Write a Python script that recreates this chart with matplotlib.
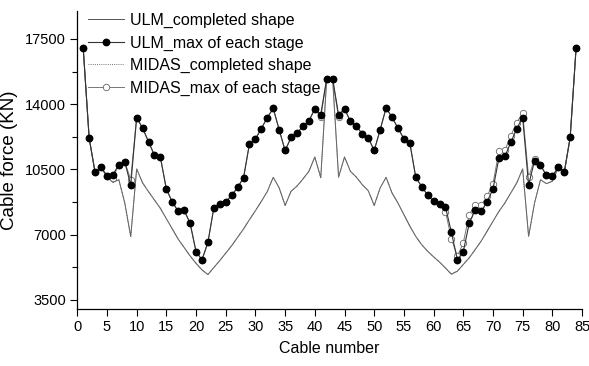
import numpy as np
import matplotlib
matplotlib.use("Agg")
import matplotlib.pyplot as plt
from matplotlib.ticker import MultipleLocator

plt.rcParams['font.family'] = ['Liberation Sans', 'DejaVu Sans']

cable_no = np.arange(1, 85)

ulm_completed = [
    17000, 12180, 10330, 10600, 10100, 9800, 9940, 8690, 6890, 10520,
    9770, 9300, 8850, 8400, 7850, 7300, 6750, 6300, 5850, 5450,
    5100, 4850, 5230, 5600, 6000, 6400, 6850, 7300, 7800, 8280,
    8780, 9310, 10070, 9500, 8560, 9320, 9600, 9980, 10390, 11160,
    10050, 15360, 15360, 10080, 11160, 10390, 10080, 9670, 9350, 8560,
    9500, 10070, 9230, 8690, 8070, 7450, 6900, 6450, 6100, 5800,
    5520, 5200, 4870, 5030, 5390, 5750, 6190, 6640, 7170, 7710,
    8240, 8690, 9230, 9770, 10520, 6900, 8690, 9940, 9730, 9860,
    10600, 10330, 12210, 17030,
]

ulm_max = [
    17000, 12180, 10330, 10600, 10160, 10210, 10750, 10900, 9660, 13280,
    12710, 11980, 11250, 11140, 9440, 8750, 8240, 8300, 7600, 6080,
    5640, 6580, 8440, 8660, 8750, 9100, 9530, 10050, 11880, 12130,
    12690, 13280, 13770, 12620, 11510, 12210, 12450, 12800, 13090, 13750,
    13430, 15360, 15360, 13420, 13750, 13070, 12800, 12410, 12190, 11510,
    12620, 13790, 13300, 12710, 12140, 11910, 10070, 9570, 9120, 8780,
    8640, 8480, 7120, 5650, 6080, 7600, 8330, 8240, 8750, 9440,
    11100, 11190, 11950, 12680, 13280, 9660, 10960, 10730, 10170, 10140,
    10600, 10330, 12210, 17030,
]

midas_completed = list(ulm_completed)

midas_max = [
    17000, 12180, 10330, 10600, 10160, 10050, 10750, 10900, 9940, 13280,
    12710, 11980, 11250, 11140, 9440, 8750, 8240, 8300, 7600, 6080,
    5640, 6580, 8440, 8660, 8750, 9100, 9530, 10050, 11880, 12130,
    12690, 13280, 13770, 12620, 11510, 12210, 12450, 12800, 13090, 13750,
    13300, 15360, 15360, 13300, 13750, 13070, 12800, 12410, 12190, 11510,
    12620, 13790, 13300, 12710, 12140, 11910, 10070, 9570, 9120, 8780,
    8640, 8230, 6780, 5830, 6550, 8070, 8600, 8570, 9050, 9730,
    11460, 11510, 12300, 13010, 13520, 10070, 11050, 10730, 10170, 10140,
    10600, 10330, 12210, 17030,
]

fig = plt.figure(figsize=(5.89, 3.66), dpi=100)
ax = fig.add_axes([0.1312, 0.1557, 0.857, 0.8143])

ax.plot(cable_no, ulm_completed, color='#555555', lw=0.7, label='ULM_completed shape', zorder=2)
ax.plot(cable_no, ulm_max, color='#333333', lw=0.8, marker='o', ms=4.6,
        mfc='black', mec='black', label='ULM_max of each stage', zorder=4)
ax.plot(cable_no, midas_completed, color='#777777', lw=0.7, ls=(0, (1, 1.2)),
        label='MIDAS_completed shape', zorder=2)
ax.plot(cable_no, midas_max, color='#777777', lw=0.7, marker='o', ms=4.6,
        mfc='white', mec='#666666', mew=0.6, label='MIDAS_max of each stage', zorder=3)

ax.set_xlim(0, 85)
ax.set_ylim(3000, 19000)
ax.xaxis.set_major_locator(MultipleLocator(5))
ax.set_yticks([3500, 7000, 10500, 14000, 17500])
ax.yaxis.set_minor_locator(MultipleLocator(1750))

for s in ('top', 'right'):
    ax.spines[s].set_visible(False)
for s in ('left', 'bottom'):
    ax.spines[s].set_linewidth(0.9)

ax.tick_params(axis='both', which='major', direction='out', length=5, width=0.8,
               labelsize=10.5, pad=3)
ax.tick_params(axis='y', which='minor', direction='out', length=3.5, width=0.8)

ax.set_xlabel('Cable number', fontsize=11.5, labelpad=5)
ax.set_ylabel('Cable force (KN)', fontsize=13.5, labelpad=5)

handles, labels = ax.get_legend_handles_labels()
ax.legend(handles, labels, loc='upper left', bbox_to_anchor=(0.022, 0.993), frameon=False,
          fontsize=11.5, handlelength=2.2, handletextpad=0.375, labelspacing=0.46,
          borderaxespad=0.0, borderpad=0.0, numpoints=1)

fig.savefig('out.png', dpi=100)
